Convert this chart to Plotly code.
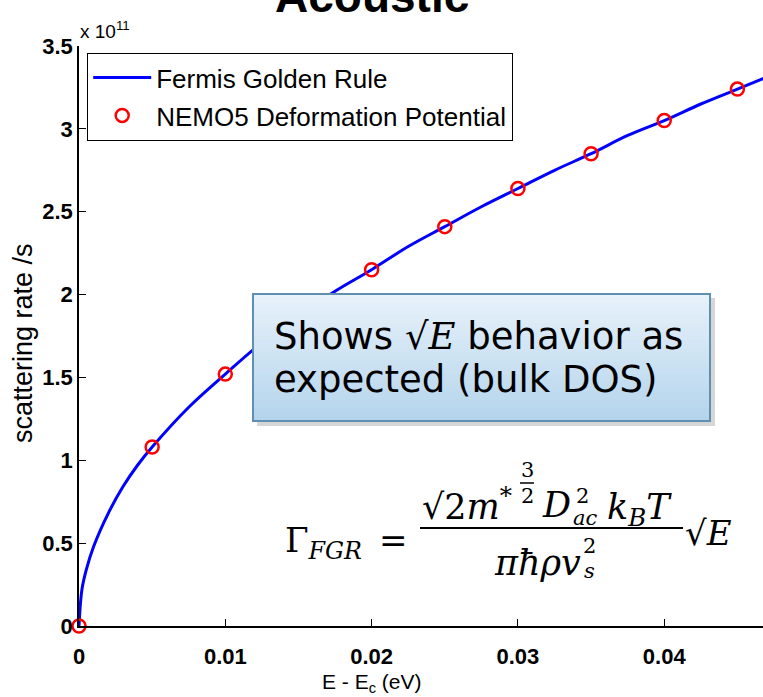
import plotly.graph_objects as go

# ---------------- data ----------------
E_curve = [0, 0.0002, 0.0005, 0.001, 0.002, 0.003, 0.004, 0.005, 0.0075, 0.01,
           0.0125, 0.015, 0.0175, 0.02, 0.0225, 0.025, 0.0275, 0.03, 0.0325,
           0.035, 0.0375, 0.04, 0.0425, 0.045, 0.0475]
rate_curve_e11 = [0, 0.22, 0.34, 0.48, 0.68, 0.84, 0.97, 1.08, 1.32, 1.52,
                  1.71, 1.87, 2.02, 2.15, 2.29, 2.41, 2.53, 2.64, 2.75,
                  2.85, 2.96, 3.05, 3.15, 3.24, 3.33]
E_pts = [0, 0.005, 0.01, 0.015, 0.02, 0.025, 0.03, 0.035, 0.04, 0.045]
rate_pts_e11 = [0, 1.08, 1.52, 1.87, 2.15, 2.41, 2.64, 2.85, 3.05, 3.24]

x_ticks = [0, 0.01, 0.02, 0.03, 0.04]
x_ticktext = ["0", "0.01", "0.02", "0.03", "0.04"]
y_ticks_e11 = [0, 0.5, 1, 1.5, 2, 2.5, 3, 3.5]
y_ticktext = ["0", "0.5", "1", "1.5", "2", "2.5", "3", "3.5"]

SCALE = 1e11
rate_curve = [v * SCALE for v in rate_curve_e11]
rate_pts = [v * SCALE for v in rate_pts_e11]
y_ticks = [v * SCALE for v in y_ticks_e11]

# ---------------- layout geometry (pixels) ----------------
W, H = 763, 697
L, T, B = 79, 46, 71
PW, PH = W - L, H - T - B
X_MAX = 0.04675


def X(px):
    return (px - L) / PW


def Y(py):
    return (H - B - py) / PH


fig = go.Figure()
fig.add_trace(go.Scatter(x=E_curve, y=rate_curve, mode="lines",
                         line=dict(color="#0000ff", width=3, shape="spline"),
                         name="Fermis Golden Rule", legendgroup="a"))
fig.add_trace(go.Scatter(x=E_pts, y=rate_pts, mode="markers",
                         marker=dict(symbol="circle-open", size=13, color="#ff0000",
                                     line=dict(width=2.5, color="#ff0000")),
                         name="NEMO5 Deformation Potential", legendgroup="b",
                         cliponaxis=False))

tickfont = dict(family="Liberation Sans, Arial", size=22, color="black", weight="bold")
fig.update_layout(
    width=W, height=H,
    margin=dict(l=L, r=0, t=T, b=B),
    plot_bgcolor="white", paper_bgcolor="white",
    showlegend=True,
    legend=dict(x=X(87), y=Y(53), xanchor="left", yanchor="top",
                bgcolor="white", bordercolor="black", borderwidth=1.2,
                font=dict(family="Liberation Sans, Arial", size=26, color="black"),
                traceorder="grouped", tracegroupgap=1, itemwidth=58),
    xaxis=dict(range=[0, X_MAX], tickvals=x_ticks, ticktext=x_ticktext,
               ticks="inside", ticklen=7, tickcolor="black", tickwidth=1.2,
               showline=True, linecolor="black", linewidth=1.5, mirror=False,
               showgrid=False, zeroline=False, tickfont=tickfont,
               ticklabelstandoff=10),
    yaxis=dict(range=[0, 3.5 * SCALE], tickvals=y_ticks, ticktext=y_ticktext,
               ticks="inside", ticklen=7, tickcolor="black", tickwidth=1.2,
               showline=True, linecolor="black", linewidth=1.5, mirror=False,
               showgrid=False, zeroline=False, tickfont=tickfont),
)

shapes = []
annos = []

# ---------------- callout box with gradient ----------------
bx0, bx1, by0, by1 = 253, 710, 294, 421
shapes.append(dict(type="rect", xref="paper", yref="paper",
                   x0=X(bx0 + 4), x1=X(bx1 + 5), y0=Y(by0 + 4), y1=Y(by1 + 5),
                   fillcolor="rgba(0,0,0,0.16)", line=dict(width=0), layer="above"))
n = 30
c_top = (232, 242, 250)
c_bot = (180, 212, 236)
for i in range(n):
    t = (i + 0.5) / n
    c = tuple(int(round(a + (b - a) * t)) for a, b in zip(c_top, c_bot))
    ya = by0 + (by1 - by0) * i / n
    yb = by0 + (by1 - by0) * (i + 1) / n
    shapes.append(dict(type="rect", xref="paper", yref="paper",
                       x0=X(bx0), x1=X(bx1), y0=Y(ya - 0.5), y1=Y(yb + 0.5),
                       fillcolor="rgb(%d,%d,%d)" % c, line=dict(width=0), layer="above"))
shapes.append(dict(type="rect", xref="paper", yref="paper",
                   x0=X(bx0), x1=X(bx1), y0=Y(by0), y1=Y(by1),
                   fillcolor="rgba(0,0,0,0)", line=dict(color="#5f8fb2", width=2),
                   layer="above"))

boxfont = dict(family="DejaVu Sans", size=37, color="black")
annos.append(dict(xref="paper", yref="paper", x=X(272), y=Y(336),
                  xanchor="left", yanchor="middle", showarrow=False, align="left",
                  text="Shows <span style='font-family:DejaVu Serif'>√<i>E</i></span> behavior as",
                  font=boxfont))
annos.append(dict(xref="paper", yref="paper", x=X(272), y=Y(379),
                  xanchor="left", yanchor="middle", showarrow=False, align="left",
                  text="expected (bulk DOS)", font=boxfont))

# ---------------- formula ----------------
serif = "DejaVu Serif"
ff = dict(family=serif, size=35, color="black")
fs = dict(family=serif, size=21, color="black")


def put(px, py, text, font, anchor="left"):
    annos.append(dict(xref="paper", yref="paper", x=X(px), y=Y(py), xanchor=anchor,
                      yanchor="middle", showarrow=False, text=text, font=font))


put(283, 542, "Γ<sub><i>FGR</i></sub>", dict(family=serif, size=34, color="black"))
put(393, 540, "=", dict(family=serif, size=34, color="black"), "center")
shapes.append(dict(type="line", xref="paper", yref="paper",
                   x0=X(420), x1=X(683), y0=Y(528), y1=Y(528),
                   line=dict(color="black", width=2)))
# numerator
put(420, 504, "√2<i>m</i><sup>*</sup>", ff)
put(527, 470, "3", fs, "center")
shapes.append(dict(type="line", xref="paper", yref="paper",
                   x0=X(520), x1=X(534), y0=Y(483), y1=Y(483),
                   line=dict(color="black", width=1.5)))
put(527, 496, "2", fs, "center")
put(540, 505, "<i>D</i>", ff)
put(582, 496, "2", fs, "center")
put(571, 518, "<i>ac</i>", fs)
put(605, 509, "<i>k</i><sub><i>B</i></sub><i>T</i>", ff)
# denominator
put(492, 563, "<i>πħρv</i>", ff)
put(589, 546, "2", fs, "center")
put(589, 571, "<i>s</i>", fs, "center")
put(683, 533, "√<i>E</i>", dict(family=serif, size=34, color="black"))

# ---------------- titles ----------------
annos.append(dict(xref="paper", yref="paper", x=X(372), y=Y(-4), xanchor="center",
                  yanchor="middle", showarrow=False, text="<b>Acoustic</b>",
                  font=dict(family="Liberation Sans, Arial", size=46, color="black")))
annos.append(dict(xref="paper", yref="paper", x=X(78), y=Y(44), xanchor="left",
                  yanchor="bottom", showarrow=False, text="x 10<sup>11</sup>",
                  font=dict(family="Liberation Sans, Arial", size=19, color="black")))
annos.append(dict(xref="paper", yref="paper", x=X(372), y=Y(683), xanchor="center",
                  yanchor="middle", showarrow=False, text="E - E<sub>c</sub> (eV)",
                  font=dict(family="Liberation Sans, Arial", size=21, color="black")))
annos.append(dict(xref="paper", yref="paper", x=X(23), y=Y(343), xanchor="center",
                  yanchor="middle", showarrow=False, textangle=-90,
                  text="scattering rate /s",
                  font=dict(family="Liberation Sans, Arial", size=27, color="black")))

fig.update_layout(shapes=shapes, annotations=annos)
fig.write_html("out.html")
